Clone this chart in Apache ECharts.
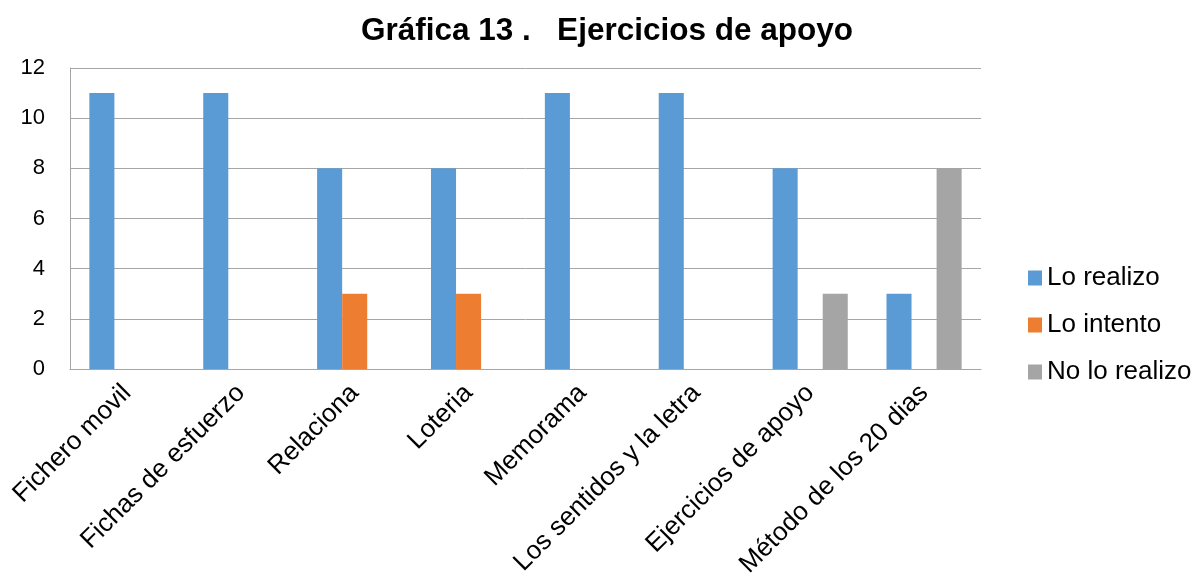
<!DOCTYPE html>
<html><head><meta charset="utf-8">
<script src="https://cdn.jsdelivr.net/npm/echarts@6/dist/echarts.min.js"></script>
<style>html,body{margin:0;padding:0;background:#fff}#c{width:1193px;height:583px}</style>
</head><body><div id="c"></div>
<script>
const categories = ["Fichero movil","Fichas de esfuerzo","Relaciona","Loteria","Memorama","Los sentidos y la letra","Ejercicios de apoyo","Método de los 20 dias"];
const seriesNames = ["Lo realizo","Lo intento","No lo realizo"];
const loRealizo = [11,11,8,8,11,11,8,3];
const loIntento = [0,0,3,3,0,0,0,0];
const noLoRealizo = [0,0,0,0,0,0,3,8];
const yTicks = {min:0,max:12,interval:2};
const colors = ["#5B9BD5","#ED7D31","#A5A5A5"];
const font = "'Liberation Sans', Arial, sans-serif";
const chart = echarts.init(document.getElementById('c'));
chart.setOption({
  animation:false,
  title:{text:"Gráfica 13 .   Ejercicios de apoyo",left:602,textAlign:'center',top:10,
    textStyle:{fontFamily:font,fontSize:31.5,fontWeight:'bold',color:'#000'}},
  grid:{left:70,right:212,top:68,bottom:214,containLabel:false},
  legend:{orient:'vertical',left:1023,top:260,itemWidth:14,itemHeight:15,itemGap:21,
    icon:'rect',data:seriesNames,
    textStyle:{fontFamily:font,fontSize:26,color:'#000'}},
  xAxis:{type:'category',data:categories,
    axisLine:{lineStyle:{color:'#a6a6a6'}},axisTick:{show:false},
    axisLabel:{rotate:45,interval:0,fontFamily:font,fontSize:26,color:'#000',margin:20}},
  yAxis:{type:'value',min:yTicks.min,max:yTicks.max,interval:yTicks.interval,
    axisLine:{show:true,lineStyle:{color:'#a6a6a6'}},axisTick:{show:false},
    splitLine:{lineStyle:{color:'#a6a6a6'}},
    axisLabel:{fontFamily:font,fontSize:22,color:'#000',margin:25}},
  series:[
    {name:seriesNames[0],type:'bar',data:loRealizo,itemStyle:{color:colors[0]},barGap:'0%',barCategoryGap:'34%'},
    {name:seriesNames[1],type:'bar',data:loIntento,itemStyle:{color:colors[1]},barGap:'0%',barCategoryGap:'34%'},
    {name:seriesNames[2],type:'bar',data:noLoRealizo,itemStyle:{color:colors[2]},barGap:'0%',barCategoryGap:'34%'}
  ]
});
</script></body></html>
